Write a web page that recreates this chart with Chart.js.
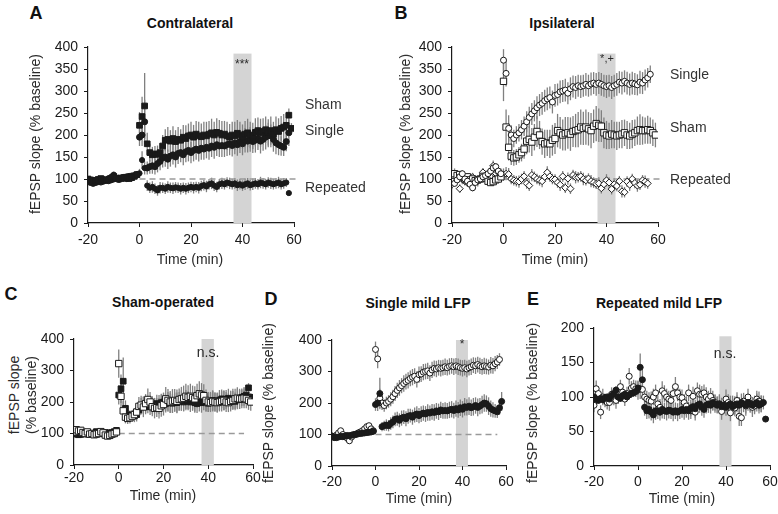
<!DOCTYPE html>
<html>
<head>
<meta charset="utf-8">
<script src="https://cdn.jsdelivr.net/npm/chart.js@4.4.0/dist/chart.umd.min.js"></script>
<style>
  body { margin: 0; background: #fff; }
  #fig { position: relative; width: 778px; height: 514px; overflow: hidden; font-family: "Liberation Sans", Arial, sans-serif; color: #2a2a2a; }
  canvas { position: absolute; z-index: 1; }
  .t { position: absolute; z-index: 2; white-space: nowrap; font-size: 14px; line-height: 1; transform: translate(-50%, -50%); }
  .l { position: absolute; z-index: 2; white-space: nowrap; font-size: 14px; line-height: 1; transform: translate(0, -50%); color: #333; }
  .letter { font-weight: bold; font-size: 18px; color: #111; }
  .title { font-weight: bold; font-size: 14px; color: #111; }
  .rot { transform: translate(-50%, -50%) rotate(-90deg); }
</style>
</head>
<body>
<div id="fig">
  <div class="t letter" style="left:36px;top:13px">A</div>
  <div class="t title" style="left:190px;top:23px">Contralateral</div>
  <div class="t letter" style="left:401px;top:13px">B</div>
  <div class="t title" style="left:562px;top:23px">Ipsilateral</div>
  <div class="t letter" style="left:11px;top:294px">C</div>
  <div class="t title" style="left:163px;top:302px">Sham-operated</div>
  <div class="t letter" style="left:271px;top:299px">D</div>
  <div class="t title" style="left:418px;top:303px">Single mild LFP</div>
  <div class="t letter" style="left:533px;top:299px">E</div>
  <div class="t title" style="left:659px;top:303px">Repeated mild LFP</div>

  <div class="t rot" style="left:35px;top:134px">fEPSP slope (% baseline)</div>
  <div class="t rot" style="left:405px;top:134px">fEPSP slope (% baseline)</div>
  <div class="t rot" style="left:14px;top:395px">fEPSP slope</div>
  <div class="t rot" style="left:31px;top:395px">(% baseline)</div>
  <div class="t rot" style="left:268px;top:403px">fEPSP slope (% baseline)</div>
  <div class="t rot" style="left:532px;top:403px">fEPSP slope (% baseline)</div>

  <div class="t" style="left:190px;top:259px">Time (min)</div>
  <div class="t" style="left:555px;top:259px">Time (min)</div>
  <div class="t" style="left:163px;top:495px">Time (min)</div>
  <div class="t" style="left:419px;top:498px">Time (min)</div>
  <div class="t" style="left:682px;top:498px">Time (min)</div>

  <div class="l" style="left:305px;top:104px">Sham</div>
  <div class="l" style="left:305px;top:130px">Single</div>
  <div class="l" style="left:305px;top:187px">Repeated</div>
  <div class="l" style="left:670px;top:74px">Single</div>
  <div class="l" style="left:670px;top:127px">Sham</div>
  <div class="l" style="left:670px;top:179px">Repeated</div>

  <div class="t" style="left:242px;top:64px;font-size:12px">***</div>
  <div class="t" style="left:607px;top:58px;font-size:11px">*,+</div>
  <div class="t" style="left:208px;top:352px">n.s.</div>
  <div class="t" style="left:462px;top:344px;font-size:12px">*</div>
  <div class="t" style="left:725px;top:353px">n.s.</div>
</div>

<script>
// time (min), one point per minute
const time = [-20, -19, -18, -17, -16, -15, -14, -13, -12, -11, -10, -9, -8, -7, -6, -5, -4, -3, -2, -1,
  0, 1, 2, 3, 4, 5, 6, 7, 8, 9, 10, 11, 12, 13, 14, 15, 16, 17, 18, 19,
  20, 21, 22, 23, 24, 25, 26, 27, 28, 29, 30, 31, 32, 33, 34, 35, 36, 37, 38, 39,
  40, 41, 42, 43, 44, 45, 46, 47, 48, 49, 50, 51, 52, 53, 54, 55, 56, 57, 58, 59];

// contralateral (filled markers)
const shamContra = [100, 98, 96, 97, 99, 101, 98, 97, 99, 101, 106, 102, 100, 101, 103, 102, 101, 103, 106, 110,
  222, 242, 266, 180, 160, 155, 157, 156, 160, 175, 188, 190, 186, 192, 185, 190, 188, 195, 192, 198,
  200, 195, 202, 198, 196, 200, 198, 202, 205, 200, 206, 204, 200, 202, 198, 195, 200, 198, 204, 200,
  196, 202, 205, 200, 198, 206, 210, 205, 208, 212, 206, 210, 202, 212, 208, 215, 218, 222, 245, 215];
const shamContraErr = [6, 6, 5, 5, 6, 5, 6, 5, 5, 6, 7, 6, 5, 6, 6, 5, 6, 6, 7, 8,
  30, 45, 75, 25, 20, 18, 18, 20, 22, 25, 25, 28, 25, 28, 26, 28, 25, 28, 30, 28,
  30, 28, 30, 32, 30, 30, 32, 30, 32, 30, 32, 30, 32, 30, 32, 30, 30, 32, 30, 30,
  28, 30, 32, 30, 30, 32, 30, 32, 30, 30, 30, 32, 28, 30, 30, 28, 30, 28, 15, 12];

const singleContra = [95, 92, 90, 92, 94, 93, 95, 97, 96, 98, 100, 101, 102, 103, 104, 105, 106, 107, 108, 110,
  195, 200, 230, 125, 128, 130, 128, 135, 140, 148, 150, 145, 152, 155, 150, 158, 160, 155, 162, 165,
  160, 165, 168, 165, 170, 168, 172, 170, 175, 172, 178, 175, 176, 175, 178, 180, 176, 182, 178, 185,
  180, 188, 186, 190, 185, 188, 192, 186, 190, 195, 200, 198, 190, 182, 178, 175, 172, 185, 205, null];
const singleContraErr = [6, 5, 5, 6, 5, 5, 6, 5, 5, 6, 5, 6, 5, 6, 5, 6, 6, 5, 6, 7,
  20, 25, 50, 15, 16, 18, 18, 20, 20, 22, 22, 22, 24, 22, 24, 24, 22, 24, 24, 25,
  24, 25, 24, 25, 26, 24, 25, 26, 25, 26, 26, 25, 26, 25, 26, 26, 25, 26, 25, 26,
  26, 28, 26, 28, 26, 28, 26, 28, 26, 28, 28, 26, 28, 26, 24, 22, 20, 22, 30, null];

const repeatedContra = [100, 97, 95, 98, 96, 99, 100, 97, 102, 105, 110, 100, 98, 102, 104, 100, 103, 105, 106, 108,
  113, 143, 125, 85, 80, 82, 78, 74, 80, 80, 78, 82, 80, 79, 81, 80, 78, 80, 78, 80,
  82, 80, 82, 80, 84, 86, 83, 88, 90, 85, 82, 88, 90, 88, 92, 90, 88, 90, 86, 88,
  85, 88, 90, 86, 88, 90, 88, 92, 90, 88, 92, 90, 88, 90, 92, 88, 90, 92, 68, null];
const repeatedContraErr = [5, 5, 4, 5, 5, 4, 5, 5, 5, 6, 6, 5, 5, 5, 6, 5, 5, 6, 6, 6,
  10, 20, 15, 12, 12, 13, 12, 12, 13, 12, 12, 13, 12, 13, 12, 12, 13, 12, 13, 12,
  12, 13, 12, 13, 12, 12, 13, 12, 13, 12, 12, 12, 13, 12, 12, 13, 12, 12, 13, 12,
  12, 13, 12, 12, 13, 12, 12, 13, 12, 12, 12, 13, 12, 12, 13, 12, 12, 10, 4, null];

// ipsilateral (open markers)
const shamIpsi = [105, 112, 108, 110, 103, 100, 105, 98, 100, 96, 98, 100, 106, 102, 95, 92, 94, 98, 100, 105,
  322, 218, 172, 152, 148, 150, 155, 160, 168, 186, 190, 184, 195, 208, 200, 185, 180, 182, 180, 188,
  192, 210, 205, 200, 203, 205, 202, 208, 210, 212, 218, 215, 218, 214, 210, 220, 226, 222, 220, 205,
  200, 198, 202, 200, 198, 200, 202, 205, 200, 198, 202, 205, 210, 212, 210, 210, 212, 210, 205, 200];
const shamIpsiErr = [7, 8, 7, 8, 7, 6, 7, 6, 7, 6, 7, 6, 7, 6, 7, 6, 6, 7, 6, 7,
  45, 40, 30, 20, 18, 18, 18, 20, 22, 30, 30, 32, 30, 35, 32, 30, 32, 30, 32, 35,
  35, 38, 36, 35, 38, 36, 38, 35, 38, 40, 40, 38, 40, 38, 40, 38, 40, 38, 36, 35,
  32, 30, 32, 30, 32, 30, 32, 30, 32, 30, 32, 30, 32, 35, 32, 30, 32, 30, 30, 28];

const singleIpsi = [95, 90, 98, 105, 112, 100, 95, 88, 80, 92, 98, 100, 105, 108, 112, 118, 125, 128, 118, 112,
  370, 340, 215, 200, 192, 200, 205, 212, 220, 230, 240, 248, 255, 262, 268, 272, 278, 282, 285, 275,
  290, 292, 298, 300, 302, 295, 305, 310, 308, 312, 310, 312, 315, 312, 316, 318, 315, 318, 315, 312,
  310, 312, 308, 312, 315, 320, 318, 322, 318, 315, 318, 316, 314, 320, 318, 325, 330, 338, null, null];
const singleIpsiErr = [8, 8, 7, 8, 8, 7, 8, 7, 8, 7, 8, 7, 8, 7, 8, 8, 8, 8, 7, 8,
  25, 30, 30, 22, 20, 20, 20, 22, 22, 24, 24, 25, 24, 26, 25, 26, 25, 26, 25, 26,
  26, 25, 26, 25, 26, 25, 26, 25, 26, 25, 26, 25, 26, 25, 26, 25, 26, 25, 26, 25,
  26, 25, 26, 25, 26, 25, 26, 25, 26, 25, 26, 25, 24, 26, 25, 24, 22, 20, null, null];

const repeatedIpsi = [88, 112, 105, 78, 100, 95, 92, 92, 104, 98, 95, 100, 115, 107, 97, 105, 130, 113, 115, 112,
  110, 112, 111, 100, 97, 95, 94, 100, 106, 90, 85, 109, 105, 100, 97, 95, 105, 115, 106, 100,
  99, 92, 87, 106, 80, 101, 78, 109, 104, 104, 106, 100, 97, 101, 95, 92, 89, 90, 79, 88,
  97, 92, 77, 88, 84, 95, 72, 70, 94, 87, 100, 91, 85, 87, 97, 94, 90, null, null, null];
const repeatedIpsiErr = [10, 12, 10, 10, 12, 10, 10, 12, 10, 10, 12, 10, 10, 12, 10, 10, 12, 10, 10, 12,
  14, 15, 14, 12, 12, 12, 14, 12, 12, 12, 12, 14, 12, 12, 12, 14, 12, 14, 12, 12,
  12, 12, 14, 12, 12, 14, 12, 12, 14, 12, 12, 14, 12, 12, 14, 12, 12, 14, 12, 12,
  14, 12, 12, 14, 12, 12, 14, 12, 12, 14, 12, 12, 14, 12, 12, 14, 12, null, null, null];

// analysis window (min) and 100 % baseline reference
const windowAB = [36.5, 43.5];
const windowCDE = [37, 42.5];
const baselineLevel = 100;

const FONT = '"Liberation Sans", Arial, sans-serif';
const INK = '#1a1a1a';

function points(vals, err) {
  const out = [];
  time.forEach((t, i) => {
    if (vals[i] != null) out.push({ x: t, y: vals[i], e: err[i] });
  });
  return out;
}

// filled or open marker series
function series(vals, err, shape, r, open) {
  return {
    data: points(vals, err),
    pointStyle: shape,
    pointRadius: r,
    pointBorderWidth: 1,
    borderColor: INK,
    backgroundColor: open ? '#fff' : INK,
    showLine: false
  };
}

const bandPlugin = {
  id: 'band',
  beforeDatasetsDraw(chart, args, opts) {
    if (!opts.range) return;
    const { ctx, scales: { x, y } } = chart;
    const x0 = x.getPixelForValue(opts.range[0]);
    const x1 = x.getPixelForValue(opts.range[1]);
    const yt = y.getPixelForValue(opts.top);
    const yb = y.getPixelForValue(0);
    ctx.save();
    ctx.fillStyle = '#d4d4d4';
    ctx.fillRect(x0, yt, x1 - x0, yb - yt);
    ctx.restore();
  }
};

const errPlugin = {
  id: 'errbars',
  beforeDatasetsDraw(chart) {
    const { ctx, scales: { x, y }, chartArea } = chart;
    ctx.save();
    ctx.beginPath();
    ctx.rect(chartArea.left, chartArea.top, chartArea.width, chartArea.height);
    ctx.clip();
    ctx.strokeStyle = '#808080';
    ctx.lineWidth = 1.3;
    chart.data.datasets.forEach(ds => {
      ds.data.forEach(p => {
        if (p.e == null) return;
        const px = x.getPixelForValue(p.x);
        ctx.beginPath();
        ctx.moveTo(px, y.getPixelForValue(p.y - p.e));
        ctx.lineTo(px, y.getPixelForValue(p.y + p.e));
        ctx.stroke();
      });
    });
    ctx.restore();
  }
};

const panels = [
  { area: [87.5, 46.7, 294, 222.7], yMax: 400, yStep: 50, band: windowAB, bandTop: 385, dash: [0, 62], xPad: 5,
    sets: [series(shamContra, shamContraErr, 'rect', 4, false),
           series(singleContra, singleContraErr, 'circle', 3, false),
           series(repeatedContra, repeatedContraErr, 'circle', 2.6, false)] },
  { area: [451.5, 46.7, 658, 222.7], yMax: 400, yStep: 50, band: windowAB, bandTop: 385, dash: [0, 62], xPad: 5,
    sets: [series(singleIpsi, singleIpsiErr, 'circle', 3, true),
           series(shamIpsi, shamIpsiErr, 'rect', 4.5, true),
           series(repeatedIpsi, repeatedIpsiErr, 'rectRot', 3.5, true)] },
  { area: [74, 339, 253, 464.5], yMax: 400, yStep: 100, band: windowCDE, bandTop: 400, dash: [0, 56], xPad: 1,
    sets: [series(shamIpsi, shamIpsiErr, 'rect', 4.5, true),
           series(shamContra, shamContraErr, 'rect', 4, false)] },
  { area: [332.3, 340, 505.7, 465.7], yMax: 400, yStep: 100, band: windowCDE, bandTop: 400, dash: [0, 56], xPad: 4,
    sets: [series(singleContra, singleContraErr, 'circle', 3, false),
           series(singleIpsi, singleIpsiErr, 'circle', 3, true)] },
  { area: [594.3, 328.3, 770, 466], yMax: 200, yStep: 50, band: windowCDE, bandTop: 188, dash: null, xPad: 4,
    sets: [series(repeatedContra, repeatedContraErr, 'circle', 3, false),
           series(repeatedIpsi, repeatedIpsiErr, 'circle', 3, true)] }
];

const Y_W = 50, X_H = 35, PAD_T = 15, PAD_R = 25;
const fig = document.getElementById('fig');

panels.forEach(p => {
  const [L, T, R, B] = p.area;
  const left = Math.round(L) - Y_W, top = Math.round(T) - PAD_T;
  const w = Math.round(R) - Math.round(L) + Y_W + PAD_R;
  const h = Math.round(B) - Math.round(T) + PAD_T + X_H;
  const cv = document.createElement('canvas');
  cv.width = w; cv.height = h;
  cv.style.left = left + 'px'; cv.style.top = top + 'px';
  cv.style.width = w + 'px'; cv.style.height = h + 'px';
  fig.appendChild(cv);

  const datasets = p.sets.slice();
  if (p.dash) {
    datasets.push({
      type: 'line',
      data: p.dash.map(t => ({ x: t, y: baselineLevel })),
      borderColor: '#9a9a9a', borderWidth: 1.3, borderDash: [6, 4],
      pointRadius: 0, clip: false
    });
  }

  const axis = (extra) => Object.assign({
    grid: { drawOnChartArea: false, drawTicks: true, tickLength: 4, color: INK, lineWidth: 1 },
    border: { color: INK, width: 1.2 }
  }, extra);

  new Chart(cv, {
    type: 'scatter',
    data: { datasets },
    options: {
      responsive: false,
      animation: false,
      devicePixelRatio: 1,
      layout: { padding: { top: PAD_T, right: PAD_R, left: 0, bottom: 0 } },
      plugins: {
        legend: { display: false },
        tooltip: { enabled: false },
        band: { range: p.band, top: p.bandTop }
      },
      scales: {
        x: axis({
          type: 'linear', min: -20, max: 60,
          afterFit: s => { s.height = X_H; },
          ticks: { stepSize: 20, maxRotation: 0, padding: p.xPad, color: INK, font: { family: FONT, size: 14 } }
        }),
        y: axis({
          min: 0, max: p.yMax,
          afterFit: s => { s.width = Y_W; },
          ticks: { stepSize: p.yStep, padding: 6, color: INK, font: { family: FONT, size: 14 } }
        })
      }
    },
    plugins: [bandPlugin, errPlugin]
  });
});
</script>
</body>
</html>
